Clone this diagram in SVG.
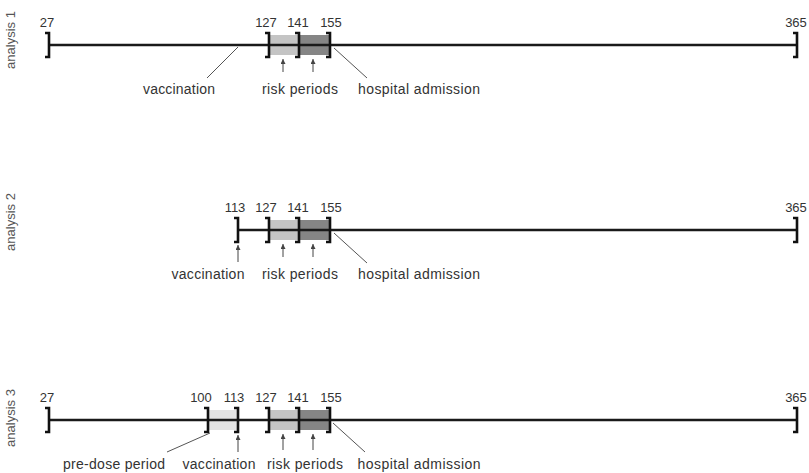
<svg xmlns="http://www.w3.org/2000/svg" width="809" height="473" viewBox="0 0 809 473">
<defs>
<marker id="ah" viewBox="0 0 6 6" refX="6" refY="3" markerWidth="5" markerHeight="5" markerUnits="userSpaceOnUse" orient="auto">
<path d="M0,0 L6,3 L0,6 Z" fill="#444"/>
</marker>
<style>
text{font-family:"Liberation Sans",Arial,sans-serif;fill:#333}
.num{font-size:13px;text-anchor:middle}
.lab{font-size:14px;text-anchor:middle}
.side{font-size:13px;text-anchor:middle;fill:#555}
.axis{stroke:#1a1a1a;stroke-width:2.6;fill:none}
.br{stroke:#111;stroke-width:2.6;fill:none}
.ptr{stroke:#555;stroke-width:1;fill:none}
.arr{stroke:#444;stroke-width:1;fill:none;marker-end:url(#ah)}
.light{fill:#c4c4c4}
.dark{fill:#858585}
.pale{fill:#e2e2e2}
</style>
</defs>

<g id="analysis1">
<text class="side" transform="translate(15,40) rotate(-90)">analysis 1</text>
<rect class="light" x="269" y="35" width="30" height="20"/>
<rect class="dark" x="299" y="35" width="31" height="20"/>
<line class="axis" x1="49" y1="45" x2="797" y2="45"/>
<path class="br" d="M45,33 H49 V57 H45"/>
<path class="br" d="M265,33 H269 V57 H265"/>
<path class="br" d="M295,33 H299 V57 H295"/>
<path class="br" d="M326,33 H330 V57 H326"/>
<path class="br" d="M793,33 H797 V57 H793"/>
<text class="num" x="47" y="27">27</text>
<text class="num" x="266" y="27">127</text>
<text class="num" x="298" y="27">141</text>
<text class="num" x="331" y="27">155</text>
<text class="num" x="796" y="27">365</text>
<text class="lab" x="179" y="94" textLength="72">vaccination</text>
<text class="lab" x="300" y="94" textLength="76">risk periods</text>
<text class="lab" x="419" y="94" textLength="122">hospital admission</text>
</g>

<g id="analysis2">
<text class="side" transform="translate(15,222) rotate(-90)">analysis 2</text>
<rect class="light" x="269" y="220" width="30" height="20"/>
<rect class="dark" x="299" y="220" width="31" height="20"/>
<line class="axis" x1="238" y1="230" x2="797" y2="230"/>
<path class="br" d="M234,218 H238 V242 H234"/>
<path class="br" d="M265,218 H269 V242 H265"/>
<path class="br" d="M295,218 H299 V242 H295"/>
<path class="br" d="M326,218 H330 V242 H326"/>
<path class="br" d="M793,218 H797 V242 H793"/>
<text class="num" x="235" y="212">113</text>
<text class="num" x="266" y="212">127</text>
<text class="num" x="298" y="212">141</text>
<text class="num" x="331" y="212">155</text>
<text class="num" x="796" y="212">365</text>
<text class="lab" x="208" y="279" textLength="73">vaccination</text>
<text class="lab" x="300" y="279" textLength="76">risk periods</text>
<text class="lab" x="419" y="279" textLength="122">hospital admission</text>
</g>

<g id="analysis3">
<text class="side" transform="translate(15,418) rotate(-90)">analysis 3</text>
<rect class="pale" x="208" y="410" width="30" height="20"/>
<rect class="light" x="269" y="410" width="30" height="20"/>
<rect class="dark" x="299" y="410" width="31" height="20"/>
<line class="axis" x1="49" y1="420" x2="797" y2="420"/>
<path class="br" d="M45,408 H49 V432 H45"/>
<path class="br" d="M204,408 H208 V432 H204"/>
<path class="br" d="M234,408 H238 V432 H234"/>
<path class="br" d="M265,408 H269 V432 H265"/>
<path class="br" d="M295,408 H299 V432 H295"/>
<path class="br" d="M326,408 H330 V432 H326"/>
<path class="br" d="M793,408 H797 V432 H793"/>
<text class="num" x="47" y="402">27</text>
<text class="num" x="201" y="402">100</text>
<text class="num" x="234" y="402">113</text>
<text class="num" x="266" y="402">127</text>
<text class="num" x="298" y="402">141</text>
<text class="num" x="331" y="402">155</text>
<text class="num" x="796" y="402">365</text>
<text class="lab" x="114" y="469" textLength="102">pre-dose period</text>
<text class="lab" x="219" y="469" textLength="73">vaccination</text>
<text class="lab" x="305" y="469" textLength="76">risk periods</text>
<text class="lab" x="419" y="469" textLength="123">hospital admission</text>
</g>

<g id="connectors">
<line class="ptr" x1="207" y1="78" x2="238" y2="47"/>
<line class="arr" x1="283" y1="72" x2="283" y2="59"/>
<line class="arr" x1="313" y1="72" x2="313" y2="59"/>
<line class="ptr" x1="334" y1="48" x2="367" y2="78"/>

<line class="arr" x1="238" y1="262" x2="238" y2="245"/>
<line class="arr" x1="283" y1="257" x2="283" y2="244"/>
<line class="arr" x1="313" y1="257" x2="313" y2="244"/>
<line class="ptr" x1="334" y1="233" x2="367" y2="263"/>

<line class="ptr" x1="210" y1="433" x2="167" y2="452"/>
<line class="arr" x1="238" y1="452" x2="238" y2="435"/>
<line class="arr" x1="283" y1="450" x2="283" y2="434"/>
<line class="arr" x1="313" y1="450" x2="313" y2="434"/>
<line class="ptr" x1="333" y1="423" x2="365" y2="452"/>
</g>
</svg>
